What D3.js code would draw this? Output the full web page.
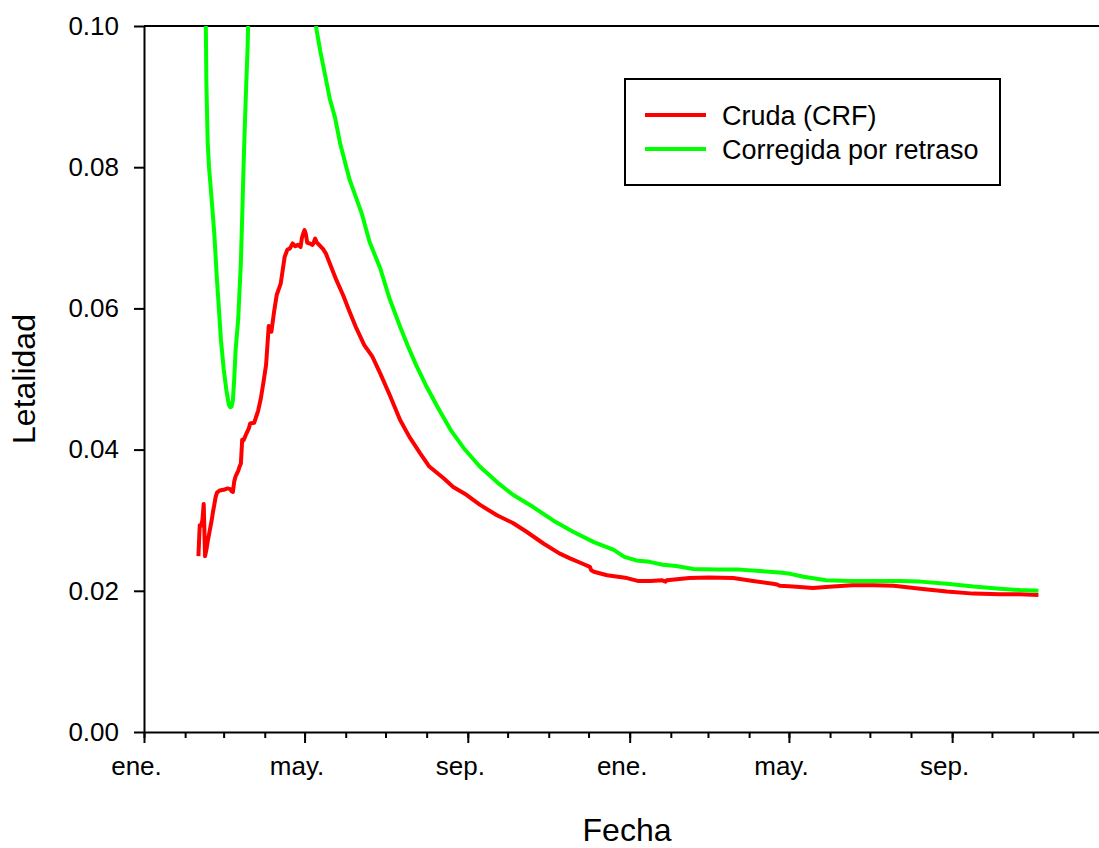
<!DOCTYPE html>
<html>
<head>
<meta charset="utf-8">
<script src="https://cdn.jsdelivr.net/npm/d3@7"></script>
<style>
  html, body { margin: 0; padding: 0; background: #fff; }
  svg { display: block; font-family: Arial, "Liberation Sans", sans-serif; }
</style>
</head>
<body>
<svg id="chart" width="1099" height="848"></svg>
<script>
// ---------------- DATA ----------------
const crudaDates = ["2020-02-11","2020-02-12","2020-02-13","2020-02-14","2020-02-15","2020-02-16","2020-02-17","2020-02-18","2020-02-19","2020-02-20","2020-02-21","2020-02-22","2020-02-23","2020-02-24","2020-02-25","2020-02-27","2020-03-01","2020-03-04","2020-03-06","2020-03-07","2020-03-08","2020-03-09","2020-03-10","2020-03-12","2020-03-13","2020-03-14","2020-03-15","2020-03-16","2020-03-18","2020-03-20","2020-03-21","2020-03-24","2020-03-27","2020-03-29","2020-03-31","2020-04-02","2020-04-04","2020-04-05","2020-04-06","2020-04-08","2020-04-10","2020-04-13","2020-04-16","2020-04-18","2020-04-20","2020-04-22","2020-04-24","2020-04-26","2020-04-28","2020-04-29","2020-04-30","2020-05-01","2020-05-02","2020-05-03","2020-05-05","2020-05-07","2020-05-08","2020-05-09","2020-05-10","2020-05-12","2020-05-15","2020-05-17","2020-05-21","2020-05-25","2020-05-30","2020-06-04","2020-06-09","2020-06-15","2020-06-21","2020-06-27","2020-07-04","2020-07-12","2020-07-19","2020-07-27","2020-08-03","2020-08-14","2020-08-21","2020-08-31","2020-09-10","2020-09-23","2020-10-05","2020-10-15","2020-10-28","2020-11-09","2020-11-17","2020-11-27","2020-12-02","2020-12-03","2020-12-05","2020-12-15","2020-12-30","2021-01-07","2021-01-17","2021-01-25","2021-01-28","2021-01-29","2021-02-15","2021-03-02","2021-03-20","2021-04-04","2021-04-19","2021-04-22","2021-04-24","2021-05-04","2021-05-19","2021-06-03","2021-06-18","2021-07-04","2021-07-19","2021-08-08","2021-08-28","2021-09-17","2021-10-07","2021-10-22","2021-11-05"];
const crudaValues = [0.0249,0.0293,0.0292,0.0300,0.0323,0.0249,0.0258,0.0270,0.0280,0.0290,0.0300,0.0312,0.0322,0.0333,0.0339,0.0342,0.0343,0.0345,0.0344,0.0341,0.0340,0.0355,0.0362,0.0370,0.0376,0.0380,0.0414,0.0413,0.0422,0.0430,0.0437,0.0438,0.0455,0.0472,0.0495,0.0520,0.0575,0.0570,0.0567,0.0595,0.0619,0.0635,0.0673,0.0683,0.0685,0.0692,0.0688,0.0690,0.0687,0.0700,0.0706,0.0711,0.0705,0.0693,0.0692,0.0690,0.0694,0.0699,0.0694,0.0690,0.0684,0.0678,0.0659,0.0640,0.0619,0.0595,0.0572,0.0548,0.0532,0.0508,0.0478,0.0442,0.0418,0.0395,0.0376,0.0359,0.0347,0.0336,0.0322,0.0307,0.0296,0.0284,0.0267,0.0253,0.0246,0.0238,0.0234,0.0229,0.0227,0.0222,0.0218,0.0214,0.0214,0.0215,0.0213,0.0215,0.0218,0.0219,0.0218,0.0214,0.0210,0.0209,0.0207,0.0206,0.0204,0.0206,0.0208,0.0208,0.0207,0.0203,0.0199,0.0196,0.0195,0.0195,0.0194];

const corregidaDates = ["2020-02-15","2020-02-16","2020-02-17","2020-02-18","2020-02-19","2020-02-21","2020-02-23","2020-02-25","2020-02-26","2020-02-28","2020-03-01","2020-03-03","2020-03-05","2020-03-06","2020-03-07","2020-03-08","2020-03-09","2020-03-10","2020-03-12","2020-03-14","2020-03-15","2020-03-16","2020-03-17","2020-03-18","2020-03-19","2020-03-20","2020-03-21","2020-03-31","2020-04-15","2020-04-30","2020-05-07","2020-05-10","2020-05-13","2020-05-16","2020-05-20","2020-05-24","2020-05-28","2020-06-04","2020-06-13","2020-06-19","2020-06-27","2020-07-04","2020-07-12","2020-07-18","2020-07-24","2020-08-01","2020-08-09","2020-08-19","2020-08-29","2020-09-10","2020-09-23","2020-10-05","2020-10-20","2020-11-04","2020-11-19","2020-12-05","2020-12-20","2020-12-28","2021-01-06","2021-01-16","2021-01-26","2021-02-05","2021-02-18","2021-03-08","2021-03-25","2021-04-09","2021-04-24","2021-05-02","2021-05-12","2021-05-29","2021-06-16","2021-07-06","2021-07-24","2021-08-08","2021-08-28","2021-09-17","2021-10-07","2021-10-22","2021-11-05"];
const corregidaValues = [0.140,0.112,0.092,0.0835,0.0800,0.0754,0.0705,0.0640,0.0612,0.0555,0.0515,0.0485,0.0463,0.0460,0.0461,0.0470,0.0500,0.0540,0.0585,0.0665,0.0730,0.0800,0.0860,0.0915,0.0965,0.1040,0.1120,0.150,0.160,0.125,0.106,0.0995,0.0963,0.0935,0.0897,0.0870,0.0832,0.0782,0.0735,0.0694,0.0657,0.0614,0.0574,0.0546,0.0520,0.0489,0.0461,0.0428,0.0402,0.0376,0.0354,0.0336,0.0319,0.0300,0.0284,0.0269,0.0258,0.0248,0.0243,0.0241,0.0237,0.0235,0.0231,0.0230,0.0230,0.0228,0.0226,0.0224,0.0220,0.0215,0.0214,0.0214,0.0214,0.0213,0.0210,0.0206,0.0203,0.0201,0.0200];

const seriesNames = ["Cruda (CRF)", "Corregida por retraso"];
const seriesColors = ["#ff0000", "#00ff00"];
const monthLabels = ["ene.","feb.","mar.","abr.","may.","jun.","jul.","ago.","sep.","oct.","nov.","dic."];
const yTicks = [0, 0.02, 0.04, 0.06, 0.08, 0.10];
const xDomain = ["2020-01-01", "2022-01-01"];
const xLastTick = "2021-12-01";
const yDomain = [0, 0.10];

// ---------------- CHART ----------------
(function () {
  const parse = d3.timeParse("%Y-%m-%d");
  const svg = d3.select("#chart");
  const mLeft = 144, mTop = 26, mBottom = 732;
  const pxPerDay = 1.327;
  const xStart = parse(xDomain[0]), xEnd = parse(xDomain[1]);
  const lastTick = parse(xLastTick);
  const nDays = d3.timeDay.count(xStart, xEnd);
  const FONT = "Arial, 'Liberation Sans', sans-serif";

  const x = d3.scaleTime().domain([xStart, xEnd]).range([mLeft, mLeft + nDays * pxPerDay]);
  const y = d3.scaleLinear().domain(yDomain).range([mBottom, mTop]);

  const series = [
    crudaDates.map((d, i) => ({ date: parse(d), value: crudaValues[i] })),
    corregidaDates.map((d, i) => ({ date: parse(d), value: corregidaValues[i] }))
  ];

  svg.append("defs").append("clipPath").attr("id", "plotclip")
    .append("rect").attr("x", mLeft).attr("y", mTop)
    .attr("width", x.range()[1] - mLeft).attr("height", mBottom - mTop);

  const minorTicks = d3.timeMonth.range(xStart, d3.timeDay.offset(lastTick, 1), 1);
  const majorTicks = minorTicks.filter(d => d.getMonth() % 4 === 0);

  // minor x ticks
  svg.append("g")
    .attr("transform", `translate(0,${mBottom})`)
    .call(d3.axisBottom(x).tickValues(minorTicks).tickSize(6).tickSizeOuter(0).tickFormat(""))
    .call(g => g.select(".domain").remove())
    .call(g => g.selectAll("line").attr("stroke", "#000").attr("stroke-width", 2));

  // major x ticks
  svg.append("g")
    .attr("transform", `translate(0,${mBottom})`)
    .call(d3.axisBottom(x).tickValues(majorTicks).tickSize(11).tickSizeOuter(0).tickPadding(14)
      .tickFormat(d => monthLabels[d.getMonth()]))
    .call(g => g.select(".domain").attr("stroke", "#000").attr("stroke-width", 2))
    .call(g => g.selectAll("line").attr("stroke", "#000").attr("stroke-width", 2))
    .call(g => g.selectAll("text").attr("font-size", 26).attr("fill", "#000")
      .attr("font-family", FONT).attr("dx", -8));

  // y axis
  svg.append("g")
    .attr("transform", `translate(${mLeft},0)`)
    .call(d3.axisLeft(y).tickValues(yTicks).tickSize(10).tickSizeOuter(0).tickPadding(15)
      .tickFormat(d3.format(".2f")))
    .call(g => g.select(".domain").attr("stroke", "#000").attr("stroke-width", 2))
    .call(g => g.selectAll("line").attr("stroke", "#000").attr("stroke-width", 2))
    .call(g => g.selectAll("text").attr("font-size", 26).attr("fill", "#000")
      .attr("font-family", FONT));

  // top frame line
  svg.append("line")
    .attr("x1", mLeft).attr("x2", x.range()[1])
    .attr("y1", mTop).attr("y2", mTop)
    .attr("stroke", "#000").attr("stroke-width", 2);

  // lines
  const line = d3.line().x(d => x(d.date)).y(d => y(d.value));
  const plot = svg.append("g").attr("clip-path", "url(#plotclip)");
  series.forEach((s, i) => {
    plot.append("path").datum(s)
      .attr("fill", "none")
      .attr("stroke", seriesColors[i])
      .attr("stroke-width", 4)
      .attr("stroke-linejoin", "round")
      .attr("d", line);
  });

  // axis titles
  svg.append("text")
    .attr("x", 627).attr("y", 841)
    .attr("text-anchor", "middle").attr("font-size", 32).attr("fill", "#000")
    .text("Fecha");
  svg.append("text")
    .attr("transform", "translate(35,379) rotate(-90)")
    .attr("text-anchor", "middle").attr("font-size", 32).attr("fill", "#000")
    .text("Letalidad");

  // legend
  const lg = svg.append("g");
  lg.append("rect")
    .attr("x", 625).attr("y", 79).attr("width", 375).attr("height", 106)
    .attr("fill", "#fff").attr("stroke", "#000").attr("stroke-width", 2);
  seriesNames.forEach((name, i) => {
    const yy = 115 + i * 34;
    lg.append("line").attr("x1", 645).attr("x2", 706).attr("y1", yy).attr("y2", yy)
      .attr("stroke", seriesColors[i]).attr("stroke-width", 4);
    lg.append("text").attr("x", 722).attr("y", yy + 9.5)
      .attr("font-size", 27).attr("fill", "#000").text(name);
  });
})();
</script>
</body>
</html>
